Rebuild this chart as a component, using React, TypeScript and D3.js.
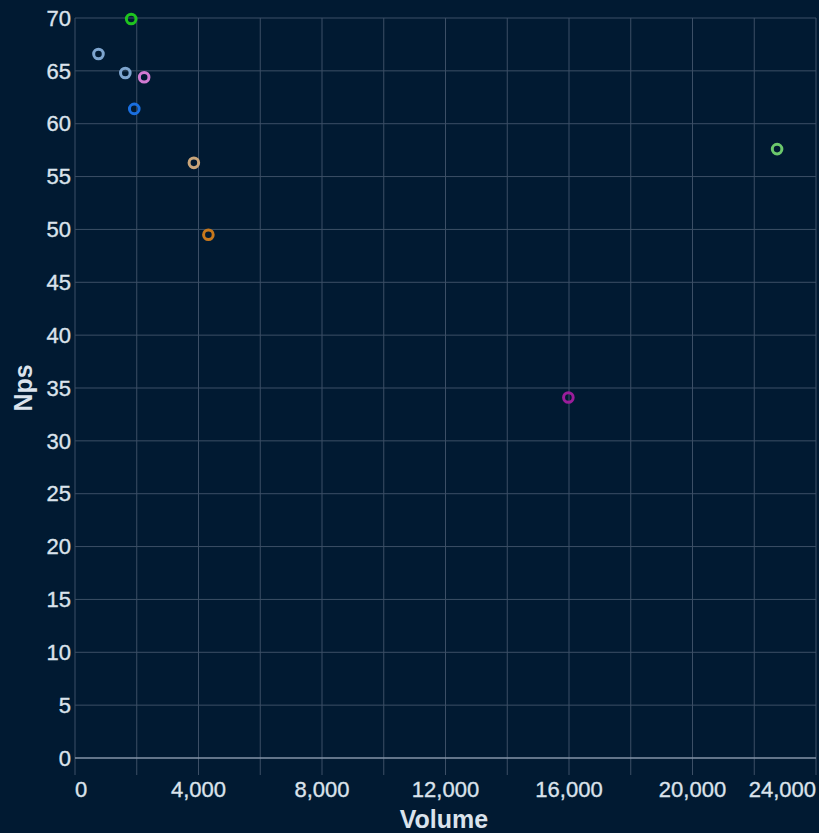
import React from "react";
import * as d3 from "d3";

const names = ["A", "B", "C", "D", "E", "F", "G", "H", "I"];
const volumes = [760, 1630, 1820, 2240, 1920, 3850, 4320, 15980, 22740];
const npsValues = [66.6, 64.8, 69.9, 64.4, 61.4, 56.3, 49.5, 34.1, 57.6];
const colors = ["#7ea5cf", "#7ea5cf", "#1fc41f", "#d27ad2", "#1a6fe0", "#c9a57a", "#c8781c", "#9b1d9b", "#6cc86c"];
const xGridTicks = d3.range(0, 24001, 2000);
const xLabelTicks = [0, 4000, 8000, 12000, 16000, 20000, 24000];
const yTicks = d3.range(0, 71, 5);

export default function App() {
  const W = 819, H = 833;
  const x = d3.scaleLinear().domain([0, 24000]).range([75, 816]);
  const y = d3.scaleLinear().domain([0, 70]).range([758, 18]);
  const fmt = d3.format(",");
  const textColor = "#dbe3ec";
  const font = "Liberation Sans, Arial, sans-serif";
  return (
    <svg width={W} height={H} style={{ position: "absolute", left: 0, top: 0, background: "#011a32" }}>
      <rect width={W} height={H} fill="#011a32" />
      {xGridTicks.map((t) => (
        <line key={"vx" + t} x1={x(t)} x2={x(t)} y1={18} y2={775} stroke="#3c4f66" strokeWidth={1} />
      ))}
      {yTicks.map((t) => (
        <line key={"hy" + t} x1={75} x2={816} y1={y(t)} y2={y(t)} stroke={t === 0 ? "#8494a8" : "#3c4f66"} strokeWidth={t === 0 ? 1.5 : 1} />
      ))}
      {yTicks.map((t) => (
        <text key={"ly" + t} x={71} y={y(t)} dy="0.35em" textAnchor="end" fill={textColor} stroke={textColor} strokeWidth={0.35} fontSize={22} fontFamily={font}>
          {t}
        </text>
      ))}
      {xLabelTicks.map((t, i) => {
        const anchor = i === 0 ? "start" : i === xLabelTicks.length - 1 ? "end" : "middle";
        return (
          <text key={"lx" + t} x={x(t)} y={797} textAnchor={anchor} fill={textColor} stroke={textColor} strokeWidth={0.35} fontSize={22} fontFamily={font}>
            {fmt(t)}
          </text>
        );
      })}
      <text x={444} y={828} textAnchor="middle" fill={textColor} fontSize={25} fontWeight="bold" fontFamily={font}>
        Volume
      </text>
      <text transform="translate(32,388) rotate(-90)" textAnchor="middle" fill={textColor} fontSize={25} fontWeight="bold" fontFamily={font}>
        Nps
      </text>
      {names.map((n, i) => (
        <circle key={n} cx={x(volumes[i])} cy={y(npsValues[i])} r={4.8} fill="none" stroke={colors[i]} strokeWidth={3} />
      ))}
    </svg>
  );
}
